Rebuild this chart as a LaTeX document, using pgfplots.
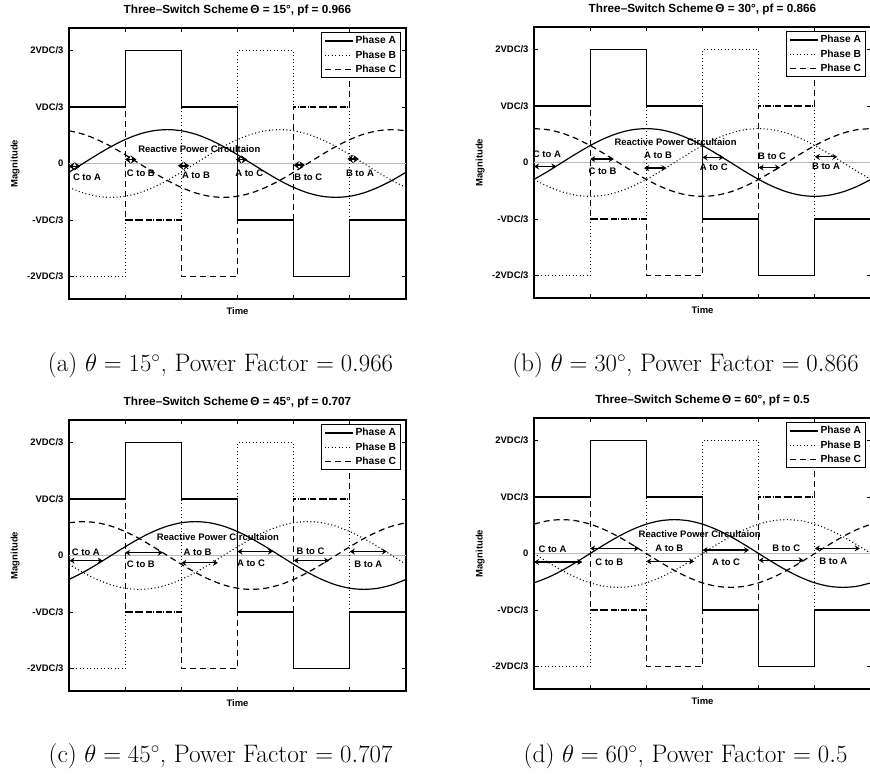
\documentclass[border=0pt]{standalone}
\usepackage{fontspec}
\usepackage{pgfplots}
\pgfplotsset{compat=1.18}
\usepackage{pgfplotstable}
\usetikzlibrary{arrows.meta}
\newfontfamily\hv{Liberation Sans}
\newcommand\lbl{\hv\bfseries\fontsize{9.5}{11}\selectfont}
\newcommand\lgd{\hv\bfseries\fontsize{10.3}{12}\selectfont}
\newcommand\ttl{\hv\bfseries\fontsize{11.8}{14}\selectfont}
\newcommand\capf{\fontsize{25.4}{30}\selectfont}

% six-step phase voltages (units of VDC/3)
\pgfplotstableread{
x A B C
0 1 -2 1
1 1 -2 1
1 2 -1 -1
2 2 -1 -1
2 1 1 -2
3 1 1 -2
3 -1 2 -1
4 -1 2 -1
4 -2 1 1
5 -2 1 1
5 -1 -1 2
6 -1 -1 2
}\stepdata

% phase currents, theta = 15
\pgfplotstableread{
x A B C
0 -0.155 -0.424 0.58
0.25 0 -0.52 0.52
0.5 0.155 -0.58 0.424
0.75 0.3 -0.6 0.3
1 0.424 -0.58 0.155
1.25 0.52 -0.52 0
1.5 0.58 -0.424 -0.155
1.75 0.6 -0.3 -0.3
2 0.58 -0.155 -0.424
2.25 0.52 0 -0.52
2.5 0.424 0.155 -0.58
2.75 0.3 0.3 -0.6
3 0.155 0.424 -0.58
3.25 0 0.52 -0.52
3.5 -0.155 0.58 -0.424
3.75 -0.3 0.6 -0.3
4 -0.424 0.58 -0.155
4.25 -0.52 0.52 0
4.5 -0.58 0.424 0.155
4.75 -0.6 0.3 0.3
5 -0.58 0.155 0.424
5.25 -0.52 0 0.52
5.5 -0.424 -0.155 0.58
5.75 -0.3 -0.3 0.6
6 -0.155 -0.424 0.58
}\sineA

% theta = 30
\pgfplotstableread{
x A B C
0 -0.3 -0.3 0.6
0.25 -0.155 -0.424 0.58
0.5 0 -0.52 0.52
0.75 0.155 -0.58 0.424
1 0.3 -0.6 0.3
1.25 0.424 -0.58 0.155
1.5 0.52 -0.52 0
1.75 0.58 -0.424 -0.155
2 0.6 -0.3 -0.3
2.25 0.58 -0.155 -0.424
2.5 0.52 0 -0.52
2.75 0.424 0.155 -0.58
3 0.3 0.3 -0.6
3.25 0.155 0.424 -0.58
3.5 0 0.52 -0.52
3.75 -0.155 0.58 -0.424
4 -0.3 0.6 -0.3
4.25 -0.424 0.58 -0.155
4.5 -0.52 0.52 0
4.75 -0.58 0.424 0.155
5 -0.6 0.3 0.3
5.25 -0.58 0.155 0.424
5.5 -0.52 0 0.52
5.75 -0.424 -0.155 0.58
6 -0.3 -0.3 0.6
}\sineB

% theta = 45
\pgfplotstableread{
x A B C
0 -0.424 -0.155 0.58
0.25 -0.3 -0.3 0.6
0.5 -0.155 -0.424 0.58
0.75 0 -0.52 0.52
1 0.155 -0.58 0.424
1.25 0.3 -0.6 0.3
1.5 0.424 -0.58 0.155
1.75 0.52 -0.52 0
2 0.58 -0.424 -0.155
2.25 0.6 -0.3 -0.3
2.5 0.58 -0.155 -0.424
2.75 0.52 0 -0.52
3 0.424 0.155 -0.58
3.25 0.3 0.3 -0.6
3.5 0.155 0.424 -0.58
3.75 0 0.52 -0.52
4 -0.155 0.58 -0.424
4.25 -0.3 0.6 -0.3
4.5 -0.424 0.58 -0.155
4.75 -0.52 0.52 0
5 -0.58 0.424 0.155
5.25 -0.6 0.3 0.3
5.5 -0.58 0.155 0.424
5.75 -0.52 0 0.52
6 -0.424 -0.155 0.58
}\sineC

% theta = 60
\pgfplotstableread{
x A B C
0 -0.52 0 0.52
0.25 -0.424 -0.155 0.58
0.5 -0.3 -0.3 0.6
0.75 -0.155 -0.424 0.58
1 0 -0.52 0.52
1.25 0.155 -0.58 0.424
1.5 0.3 -0.6 0.3
1.75 0.424 -0.58 0.155
2 0.52 -0.52 0
2.25 0.58 -0.424 -0.155
2.5 0.6 -0.3 -0.3
2.75 0.58 -0.155 -0.424
3 0.52 0 -0.52
3.25 0.424 0.155 -0.58
3.5 0.3 0.3 -0.6
3.75 0.155 0.424 -0.58
4 0 0.52 -0.52
4.25 -0.155 0.58 -0.424
4.5 -0.3 0.6 -0.3
4.75 -0.424 0.58 -0.155
5 -0.52 0.52 0
5.25 -0.58 0.424 0.155
5.5 -0.6 0.3 0.3
5.75 -0.58 0.155 0.424
6 -0.52 0 0.52
}\sineD

\pgfplotsset{
 phA/.style={black, line width=1.2bp, solid},
 phB/.style={black, line width=1.1bp, dash pattern=on 1bp off 2.5bp},
 phC/.style={black, line width=1.2bp, dash pattern=on 6bp off 4bp},
 arr/.style={black, solid, line width=1.3bp, {Stealth[length=5bp,width=6bp]}-{Stealth[length=5bp,width=6bp]}},
 star/.style={black, solid, line width=1.5bp, {Stealth[length=5.5bp,width=8bp]}-{Stealth[length=5.5bp,width=8bp]}},
 panel/.style={
  scale only axis, width=337bp, height=271bp, anchor=south west,
  xmin=0, xmax=6, ymin=-2.4, ymax=2.4,
  xtick={1,2,3,4,5}, xticklabels={{},{},{},{},{}},
  ytick={-2,-1,0,1,2},
  yticklabels={-2VDC/3,-VDC/3,0,VDC/3,2VDC/3},
  tick align=inside, major tick length=4bp,
  tick style={black, line width=0.8bp},
  axis line style={black, line width=1.1bp},
  ticklabel style={font=\lbl},
  yticklabel style={xshift=-2bp},
  xlabel={Time}, ylabel={Magnitude},
  xlabel style={at={(axis description cs:0.5,-0.043)}, anchor=center, font=\lbl},
  ylabel style={at={(axis description cs:-0.16,0.5)}, anchor=center, font=\lbl},
  title style={at={(axis description cs:0.5,1)}, anchor=base, yshift=9bp, font=\ttl},
  legend style={at={(rel axis cs:0.985,0.985)}, anchor=north east, font=\lgd,
   draw=black, line width=0.9bp, fill=white, inner xsep=2.5bp, inner ysep=2bp,
   row sep=1.2bp, cells={anchor=west}},
  legend image code/.code={\draw[#1] (0bp,0bp) -- (28bp,0bp);},
 },
}

\newcommand{\steps}{%
 \addplot[gray!55, line width=0.5bp, forget plot] coordinates {(0,0) (6,0)};
 \addplot[phA] table[x=x,y=A] {\stepdata}; \addlegendentry{Phase A}
 \addplot[phB] table[x=x,y=B] {\stepdata}; \addlegendentry{Phase B}
 \addplot[phC] table[x=x,y=C] {\stepdata}; \addlegendentry{Phase C}
}
\newcommand{\sines}[1]{%
 \addplot[phA, smooth, forget plot] table[x=x,y=A] {#1};
 \addplot[phB, smooth, forget plot] table[x=x,y=B] {#1};
 \addplot[phC, smooth, forget plot] table[x=x,y=C] {#1};
}

\begin{document}
\begin{tikzpicture}
\path[use as bounding box] (0,0) rectangle (870bp,774bp);

% (a)
\begin{axis}[panel, at={(69bp,475bp)}, title={Three–Switch Scheme\,Θ = 15°, pf = 0.966}]
\steps
\sines{\sineA}
\addplot[star, forget plot] coordinates {(0,-0.05) (0.2,-0.05)};
\addplot[star, forget plot] coordinates {(1.0,0.07) (1.2,0.07)};
\addplot[star, forget plot] coordinates {(1.94,-0.04) (2.14,-0.04)};
\addplot[star, forget plot] coordinates {(2.97,0.07) (3.17,0.07)};
\addplot[star, forget plot] coordinates {(4.0,-0.03) (4.2,-0.03)};
\addplot[star, forget plot] coordinates {(4.96,0.08) (5.16,0.08)};
\node[font=\lbl] at (axis cs:0.32,-0.24) {C to A};
\node[font=\lbl] at (axis cs:1.28,-0.18) {C to B};
\node[font=\lbl] at (axis cs:2.26,-0.21) {A to B};
\node[font=\lbl] at (axis cs:3.21,-0.18) {A to C};
\node[font=\lbl] at (axis cs:4.26,-0.24) {B to C};
\node[font=\lbl] at (axis cs:5.18,-0.17) {B to A};
\node[font=\lbl] at (axis cs:2.32,0.26) {Reactive Power Circultaion};
\end{axis}

% (b)
\begin{axis}[panel, at={(534bp,476bp)}, title={Three–Switch Scheme\,Θ = 30°, pf = 0.866}]
\steps
\sines{\sineB}
\addplot[arr, forget plot] coordinates {(0.0,-0.07) (0.4,-0.07)};
\addplot[arr, forget plot] coordinates {(1.0,0.06) (1.42,0.06)};
\addplot[arr, forget plot] coordinates {(1.96,-0.1) (2.36,-0.1)};
\addplot[arr, forget plot] coordinates {(3.0,0.09) (3.38,0.09)};
\addplot[arr, forget plot] coordinates {(4.0,-0.09) (4.38,-0.09)};
\addplot[arr, forget plot] coordinates {(5.0,0.1) (5.4,0.1)};
\node[font=\lbl] at (axis cs:0.23,0.14) {C to A};
\node[font=\lbl] at (axis cs:1.22,-0.15) {C to B};
\node[font=\lbl] at (axis cs:2.21,0.13) {A to B};
\node[font=\lbl] at (axis cs:3.2,-0.09) {A to C};
\node[font=\lbl] at (axis cs:4.24,0.11) {B to C};
\node[font=\lbl] at (axis cs:5.2,-0.07) {B to A};
\node[font=\lbl] at (axis cs:2.52,0.36) {Reactive Power Circultaion};
\end{axis}

% (c)
\begin{axis}[panel, at={(69bp,83bp)}, title={Three–Switch Scheme\,Θ = 45°, pf = 0.707}]
\steps
\sines{\sineC}
\addplot[arr, forget plot] coordinates {(0.01,-0.09) (0.6,-0.09)};
\addplot[arr, forget plot] coordinates {(1.0,0.05) (1.67,0.05)};
\addplot[arr, forget plot] coordinates {(2.0,-0.13) (2.65,-0.13)};
\addplot[arr, forget plot] coordinates {(3.0,0.07) (3.63,0.07)};
\addplot[arr, forget plot] coordinates {(4.0,-0.09) (4.63,-0.09)};
\addplot[arr, forget plot] coordinates {(5.0,0.07) (5.66,0.07)};
\node[font=\lbl] at (axis cs:0.3,0.05) {C to A};
\node[font=\lbl] at (axis cs:1.28,-0.16) {C to B};
\node[font=\lbl] at (axis cs:2.29,0.05) {A to B};
\node[font=\lbl] at (axis cs:3.24,-0.13) {A to C};
\node[font=\lbl] at (axis cs:4.3,0.08) {B to C};
\node[font=\lbl] at (axis cs:5.33,-0.15) {B to A};
\node[font=\lbl] at (axis cs:2.65,0.32) {Reactive Power Circultaion};
\end{axis}

% (d)
\begin{axis}[panel, at={(534bp,85bp)}, title={Three–Switch Scheme\,Θ = 60°, pf = 0.5}]
\steps
\sines{\sineD}
\addplot[arr, forget plot] coordinates {(0.0,-0.15) (0.86,-0.15)};
\addplot[arr, forget plot] coordinates {(1.0,0.09) (1.87,0.09)};
\addplot[arr, forget plot] coordinates {(2.0,-0.14) (2.85,-0.14)};
\addplot[arr, forget plot] coordinates {(3.0,0.06) (3.83,0.06)};
\addplot[arr, forget plot] coordinates {(4.0,-0.12) (4.8,-0.12)};
\addplot[arr, forget plot] coordinates {(5.0,0.09) (5.8,0.09)};
\node[font=\lbl] at (axis cs:0.33,0.07) {C to A};
\node[font=\lbl] at (axis cs:1.34,-0.16) {C to B};
\node[font=\lbl] at (axis cs:2.41,0.09) {A to B};
\node[font=\lbl] at (axis cs:3.42,-0.15) {A to C};
\node[font=\lbl] at (axis cs:4.49,0.09) {B to C};
\node[font=\lbl] at (axis cs:5.33,-0.14) {B to A};
\node[font=\lbl] at (axis cs:2.95,0.35) {Reactive Power Circultaion};
\end{axis}

% captions
\node[font=\capf] at (220.5bp,409bp) {(a) $\theta = 15^\circ$, Power Factor $= 0.966$};
\node[font=\capf] at (685.5bp,409bp) {(b) $\theta = 30^\circ$, Power Factor $= 0.866$};
\node[font=\capf] at (220.5bp,18bp) {(c) $\theta = 45^\circ$, Power Factor $= 0.707$};
\node[font=\capf] at (685.5bp,18bp) {(d) $\theta = 60^\circ$, Power Factor $= 0.5$};
\end{tikzpicture}
\end{document}
